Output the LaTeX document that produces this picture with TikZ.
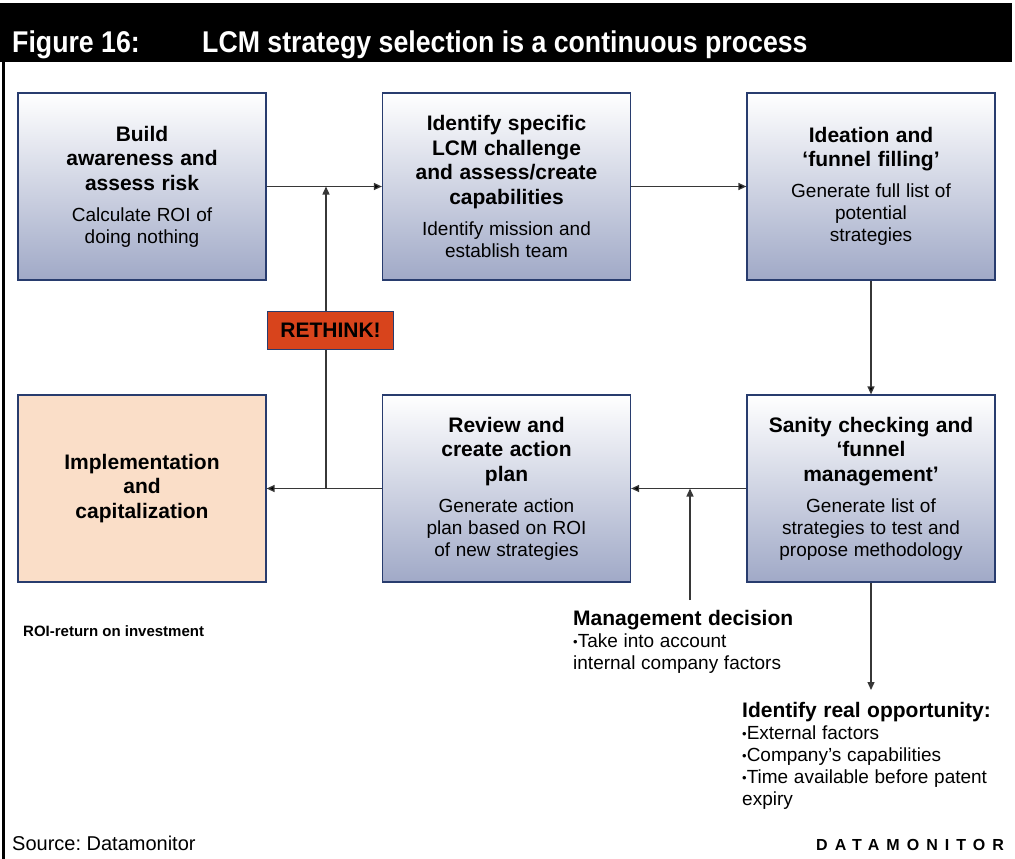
\documentclass[tikz,border=0pt]{standalone}
\usepackage{fontspec}
\setmainfont{Liberation Sans}
\newfontfamily\titlefont{Liberation Sans}[FakeStretch=0.89]
\usetikzlibrary{positioning, arrows.meta}
\frenchspacing

\definecolor{boxbot}{RGB}{160,169,199}
\definecolor{boxline}{RGB}{40,60,110}
\definecolor{peach}{RGB}{250,222,200}
\definecolor{rethinkred}{RGB}{216,68,28}
\definecolor{linkgrey}{RGB}{55,55,55}

\newcommand{\headfont}{\bfseries\fontsize{21}{24.5}\selectfont\spaceskip=0.31em\relax}
\newcommand{\bodyfont}{\fontsize{19}{22}\selectfont\spaceskip=0.3em\relax}
\newcommand{\stagetext}[2]{{\headfont #1\par}\vspace{9pt}{\bodyfont #2\par}}
\newcommand{\dotitem}{\raisebox{1pt}{\fontsize{13}{13}\selectfont •}}

\begin{document}
\begin{tikzpicture}[x=1pt, y=-1pt, node distance=302pt and 364.5pt, on grid,
    stage/.style={draw=boxline, line width=1.2pt, top color=white, bottom color=boxbot,
        minimum width=248pt, minimum height=187pt, text width=240pt, align=flush center, inner sep=0pt},
    finalstage/.style={stage, fill=peach, top color=peach, bottom color=peach},
    rethink/.style={draw=boxline, line width=1pt, fill=rethinkred, minimum width=126pt,
        minimum height=38pt, inner sep=0pt, font=\bfseries\fontsize{21}{21}\selectfont},
    note/.style={anchor=north west, inner sep=0pt, text width=280pt, align=flush left},
    arr/.style={draw=linkgrey, line width=1.3pt, -{Triangle[length=8pt,width=7pt]}}]
    \useasboundingbox (0,0) rectangle (1015,859);

    % title bar and frame
    \fill[black] (0,3) rectangle (1012,62);
    \draw[line width=3pt] (3.5,62) -- (3.5,859);
    \node[anchor=base west, inner sep=0pt, text=white, font=\titlefont\bfseries\fontsize{30}{30}\selectfont] (fig) at (12,53) {Figure 16:};
    \node[anchor=base west, inner sep=0pt, text=white, font=\titlefont\bfseries\fontsize{30}{30}\selectfont] (caption) at (202,53) {LCM strategy selection is a continuous process};

    % stages
    \node[stage] (build) at (142,186.5) {\stagetext{Build\\awareness and\\assess risk}{Calculate ROI of\\doing nothing}};
    \node[stage, right=of build] (identify) {\stagetext{Identify specific\\LCM challenge\\and assess/create\\capabilities}{Identify mission and\\establish team}};
    \node[stage, right=of identify] (ideation) {\stagetext{Ideation and\\‘funnel filling’}{Generate full list of\\potential\\strategies}};
    \node[stage, below=of ideation] (sanity) {\stagetext{Sanity checking and\\‘funnel\\management’}{Generate list of\\strategies to test and\\propose methodology}};
    \node[stage, left=of sanity] (review) {\stagetext{Review and\\create action\\plan}{Generate action\\plan based on ROI\\of new strategies}};
    \node[finalstage, left=of review] (implement) {{\headfont Implementation\\and\\capitalization\par}};

    % side notes
    \node[note] (mgmt) at (573,610) {{\headfont Management decision\par}{\bodyfont \dotitem Take into account\\internal company factors\par}};
    \node[note] (opp) at (742,702) {{\headfont Identify real opportunity:\par}{\bodyfont \dotitem External factors\\\dotitem Company’s capabilities\\\dotitem Time available before patent\\expiry\par}};
    \node[anchor=base west, inner sep=0pt, font=\bfseries\fontsize{15}{15}\selectfont] (roi) at (23,636) {ROI-return on investment};
    \node[anchor=base west, inner sep=0pt, font=\fontsize{20}{20}\selectfont] (source) at (12,850) {Source: Datamonitor};
    \node[anchor=base west, inner sep=0pt, font=\bfseries\fontsize{16}{16}\selectfont\addfontfeatures{LetterSpace=44}] (brand) at (816,850) {DATAMONITOR};

    \coordinate (fork) at (326,330);
    \coordinate (mtop) at (690,600);

    \path[arr]
    (build) edge (identify)
    (identify) edge (ideation)
    (ideation) edge (sanity)
    (sanity) edge (review)
    (review) edge (implement);

    \draw[arr] (review.west -| fork) -- (build.east -| fork);
    \draw[arr] (mtop) -- (mtop |- review.east);
    \draw[arr, shorten >=12pt] (sanity.south) -- (sanity.south |- opp.north);

    \node[rethink] (stop) at (330.5,330.5) {RETHINK!};
\end{tikzpicture}
\end{document}
